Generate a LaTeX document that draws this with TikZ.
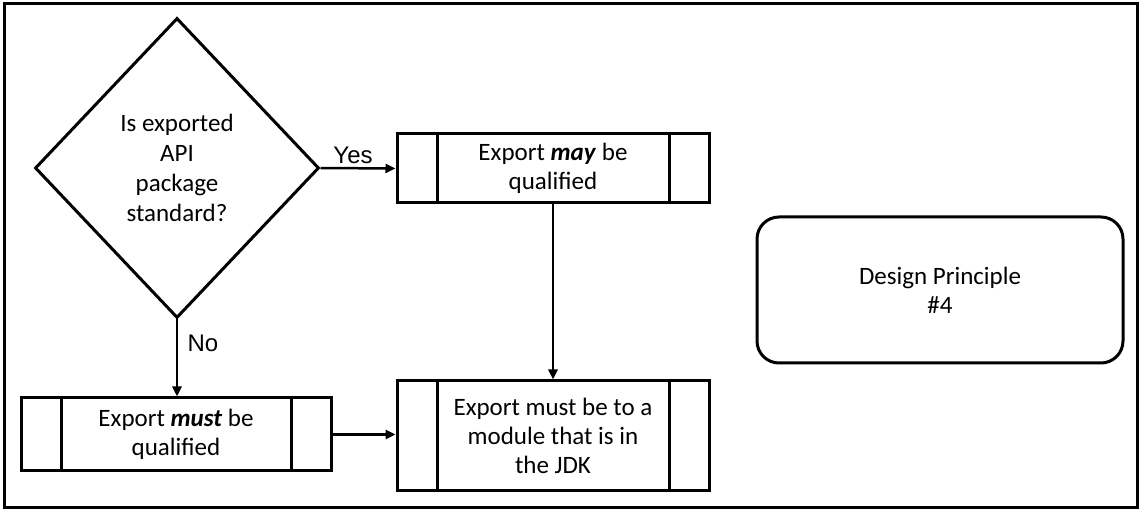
\documentclass[tikz,border=0pt]{standalone}
\usepackage{fontspec}
\setmainfont{Carlito}
\newfontfamily\arialfont{Liberation Sans}
\usetikzlibrary{shapes.geometric,arrows.meta}
\tikzset{
  procbox/.style={draw, line width=3pt, align=center, inner sep=0pt,
    font=\fontsize{25}{29}\selectfont,
    path picture={
      \draw[line width=3pt] ([xshift=40pt]path picture bounding box.north west) -- ([xshift=40pt]path picture bounding box.south west);
      \draw[line width=3pt] ([xshift=-40pt]path picture bounding box.north east) -- ([xshift=-40pt]path picture bounding box.south east);
    }},
  decision/.style={draw, diamond, line width=3pt, align=center, inner sep=0pt,
    minimum width=284pt, minimum height=300pt, font=\fontsize{25}{30}\selectfont},
  endbox/.style={draw, rounded corners=22pt, line width=3pt, align=center,
    font=\fontsize{25}{29}\selectfont},
  flow/.style={line width=2.5pt, -{Triangle[length=10pt,width=9pt]}},
  lbl/.style={font=\arialfont\fontsize{24}{28}\selectfont, inner sep=0pt}
}
\begin{document}
\begin{tikzpicture}[x=1pt,y=-1pt]
\useasboundingbox (0,0) rectangle (1141,510);
\draw[line width=3pt] (4,4) rectangle (1137,507);
\node[decision] (dec) at (177,168) {Is exported\\API\\package\\standard?};
\node[procbox, minimum width=312pt, minimum height=69pt] (may) at (553,168.5) {Export \textbf{\textit{may}} be\\qualified};
\node[procbox, minimum width=310pt, minimum height=73pt] (must) at (176,434.5) {Export \textbf{\textit{must}} be\\qualified};
\node[procbox, minimum width=312pt, minimum height=109pt] (jdk) at (553,435.5) {Export must be to a\\module that is in\\the JDK};
\node[endbox, minimum width=366pt, minimum height=146pt] (dp) at (940,290) {Design Principle\\\#4};
\draw[flow] (dec.east) -- (may.west);
\draw[flow] (dec.south) -- (dec.south |- must.north);
\draw[flow] (may.south) -- (jdk.north);
\draw[flow] (must.east) -- (must.east -| jdk.west);
\node[lbl] (yes) at (353,155) {Yes};
\node[lbl] (no) at (203,343) {No};
\end{tikzpicture}
\end{document}
